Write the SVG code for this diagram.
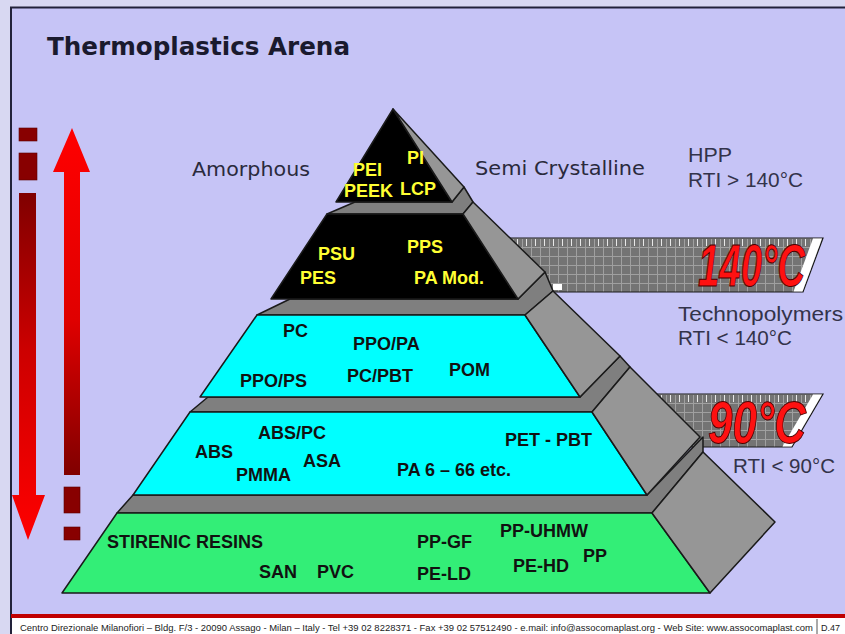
<svg xmlns="http://www.w3.org/2000/svg" width="845" height="634" viewBox="0 0 845 634">
<defs>
<style>
.face{stroke:#1a1a1a;stroke-width:1.5;stroke-linejoin:round}
.grey{fill:#969696}
.top{fill:#7f7f7f}
.black{fill:#000}
.cyan{fill:#00ffff}
.green{fill:#33ee77}
.yl{font-family:"Liberation Sans",Arial,sans-serif;font-weight:bold;font-size:18px;fill:#ffff33}
.bk{font-family:"Liberation Sans",Arial,sans-serif;font-weight:bold;font-size:18px;fill:#111}
.hd{font-family:"DejaVu Sans",Verdana,sans-serif;font-size:19px;fill:#2a2a3c}
.rt{font-family:"Liberation Sans",Arial,sans-serif;font-size:20px;fill:#33334a}
.temp{font-family:"Liberation Sans",Arial,sans-serif;font-weight:bold;font-style:italic;font-size:60px;fill:#ff1111;stroke:#4a0000;stroke-width:1}
.band{stroke:#1a1a1a;stroke-width:1.2}
</style>
<pattern id="g140" patternUnits="userSpaceOnUse" x="0" y="238" width="9" height="9">
<rect width="9" height="9" fill="#747474"/>
<path d="M0,0.5H9M0.5,0V9" stroke="#a0a0a0" stroke-width="1"/>
</pattern>
<pattern id="g90" patternUnits="userSpaceOnUse" x="0" y="394" width="9" height="9">
<rect width="9" height="9" fill="#747474"/>
<path d="M0,0.5H9M0.5,0V9" stroke="#a0a0a0" stroke-width="1"/>
</pattern>
<pattern id="tick" patternUnits="userSpaceOnUse" x="0" y="0" width="9" height="9">
<path d="M4.5,0V9" stroke="#e8e8e8" stroke-width="1"/>
</pattern>
<linearGradient id="upG" x1="0" y1="128" x2="0" y2="475" gradientUnits="userSpaceOnUse">
<stop offset="0" stop-color="#ff0000"/>
<stop offset="0.55" stop-color="#e00000"/>
<stop offset="1" stop-color="#800000"/>
</linearGradient>
<linearGradient id="downG" x1="0" y1="193" x2="0" y2="540" gradientUnits="userSpaceOnUse">
<stop offset="0" stop-color="#800000"/>
<stop offset="0.45" stop-color="#cc0000"/>
<stop offset="1" stop-color="#ff0000"/>
</linearGradient>
</defs>

<g id="background">
<rect x="0" y="0" width="845" height="634" fill="#c6c4f6"/>
<rect x="0" y="0" width="845" height="7" fill="#d8d8f2"/>
<rect x="0" y="0" width="10" height="634" fill="#d8d8f2"/>
<path d="M11,634V7.5H845" fill="none" stroke="#22223a" stroke-width="2"/>
</g>

<g id="title">
<text x="47" y="55" font-family="DejaVu Sans, Verdana, sans-serif" font-weight="bold" font-size="24" fill="#1a1a2e" textLength="303" lengthAdjust="spacingAndGlyphs">Thermoplastics Arena</text>
</g>

<g id="arrows">
<rect x="19" y="128" width="18" height="13" fill="#880000" stroke="#5a0000" stroke-width="0.6"/>
<rect x="19" y="153" width="18" height="27" fill="#880000" stroke="#5a0000" stroke-width="0.6"/>
<path d="M19,193H36V495H45L28,540L12,495H19Z" fill="url(#downG)"/>
<path d="M72,128L90,172H80V475H64V172H53Z" fill="url(#upG)"/>
<rect x="64" y="487" width="16" height="26" fill="#880000" stroke="#5a0000" stroke-width="0.6"/>
<rect x="64" y="527" width="16" height="13" fill="#880000" stroke="#5a0000" stroke-width="0.6"/>
</g>

<g id="band-140">
<polygon class="band" points="490,238 823,238 803,292 520,292" fill="url(#g140)"/>
<rect x="490" y="239" width="320" height="7" fill="url(#tick)"/>
<polygon points="813,238.6 822,238.6 802.5,291.4 793.5,291.4" fill="#ffffff"/>
<rect x="553" y="284" width="9" height="6" fill="#ffffff"/>
<text class="temp" x="698" y="286" textLength="107" lengthAdjust="spacingAndGlyphs">140°C</text>
</g>

<g id="band-90">
<polygon class="band" points="620,394 823,394 792,447 680,447" fill="url(#g90)"/>
<rect x="640" y="395" width="170" height="7" fill="url(#tick)"/>
<polygon points="813,394.6 822,394.6 791.5,446.4 782.5,446.4" fill="#ffffff"/>
<text class="temp" x="708" y="443" textLength="98" lengthAdjust="spacingAndGlyphs">90°C</text>
</g>

<g id="tier-5">
<polygon class="face top" points="133,495 647,495 703,437 703,452 652,513 117,513"/>
<polygon class="face green" points="117,513 652,513 710,593 62,593"/>
<polygon class="face grey" points="652,513 703,452 775,522 710,593"/>
<text class="bk" x="107" y="548">STIRENIC RESINS</text>
<text class="bk" x="259" y="578">SAN</text>
<text class="bk" x="317" y="578">PVC</text>
<text class="bk" x="417" y="548">PP-GF</text>
<text class="bk" x="417" y="580">PE-LD</text>
<text class="bk" x="500" y="537">PP-UHMW</text>
<text class="bk" x="513" y="572">PE-HD</text>
<text class="bk" x="583" y="562">PP</text>
</g>

<g id="tier-4">
<polygon class="face top" points="208,397 580,397 620,356 630,367 592,412 190,412"/>
<polygon class="face cyan" points="190,412 592,412 647,495 133,495"/>
<polygon class="face grey" points="592,412 630,367 700,437 647,495"/>
<text class="bk" x="258" y="439">ABS/PC</text>
<text class="bk" x="195" y="458">ABS</text>
<text class="bk" x="303" y="467">ASA</text>
<text class="bk" x="236" y="481">PMMA</text>
<text class="bk" x="397" y="476">PA 6 – 66 etc.</text>
<text class="bk" x="505" y="446">PET - PBT</text>
</g>

<g id="tier-3">
<polygon class="face top" points="290,299 518,299 545,272 553,291 525,315 257,315"/>
<polygon class="face cyan" points="257,315 525,315 580,397 200,397"/>
<polygon class="face grey" points="525,315 553,291 620,356 580,397"/>
<text class="bk" x="283" y="337">PC</text>
<text class="bk" x="353" y="350">PPO/PA</text>
<text class="bk" x="240" y="387">PPO/PS</text>
<text class="bk" x="347" y="382">PC/PBT</text>
<text class="bk" x="449" y="376">POM</text>
</g>

<g id="tier-2">
<polygon class="face top" points="355,202 452,202 464,187 473,202 463,214 327,214"/>
<polygon class="face black" points="327,214 463,214 518,299 271,299"/>
<polygon class="face grey" points="463,214 473,202 545,272 518,299"/>
<text class="yl" x="318" y="260">PSU</text>
<text class="yl" x="407" y="253">PPS</text>
<text class="yl" x="300" y="284">PES</text>
<text class="yl" x="414" y="284">PA Mod.</text>
</g>

<g id="tier-1">
<polygon class="face black" points="393,109 452,202 336,202"/>
<polygon class="face grey" points="393,109 464,187 452,202"/>
<text class="yl" x="353" y="176">PEI</text>
<text class="yl" x="344" y="197">PEEK</text>
<text class="yl" x="407" y="164">PI</text>
<text class="yl" x="400" y="195">LCP</text>
</g>

<g id="labels">
<text class="hd" x="192" y="176" textLength="118" lengthAdjust="spacingAndGlyphs">Amorphous</text>
<text class="hd" x="475" y="175" textLength="170" lengthAdjust="spacingAndGlyphs">Semi Crystalline</text>
<text class="rt" x="688" y="162" textLength="44" lengthAdjust="spacingAndGlyphs">HPP</text>
<text class="rt" x="688" y="187" textLength="115" lengthAdjust="spacingAndGlyphs">RTI &gt; 140°C</text>
<text class="rt" x="678" y="321" textLength="165" lengthAdjust="spacingAndGlyphs">Technopolymers</text>
<text class="rt" x="678" y="345" textLength="114" lengthAdjust="spacingAndGlyphs">RTI &lt; 140°C</text>
<text class="rt" x="733" y="473" textLength="102" lengthAdjust="spacingAndGlyphs">RTI &lt; 90°C</text>
</g>

<g id="footer">
<rect x="11" y="614" width="834" height="4" fill="#c00000"/>
<rect x="12" y="618" width="833" height="16" fill="#ffffff"/>
<line x1="817" y1="619" x2="817" y2="634" stroke="#555" stroke-width="1"/>
<text x="20" y="631" font-family="Liberation Sans, Arial, sans-serif" font-size="9" fill="#222" textLength="793" lengthAdjust="spacingAndGlyphs">Centro Direzionale Milanofiori – Bldg. F/3 - 20090 Assago - Milan – Italy - Tel +39 02 8228371 - Fax +39 02 57512490 - e.mail: info@assocomaplast.org - Web Site: www.assocomaplast.com</text>
<text x="821" y="631" font-family="Liberation Sans, Arial, sans-serif" font-size="9" fill="#222">D.47</text>
</g>
</svg>
